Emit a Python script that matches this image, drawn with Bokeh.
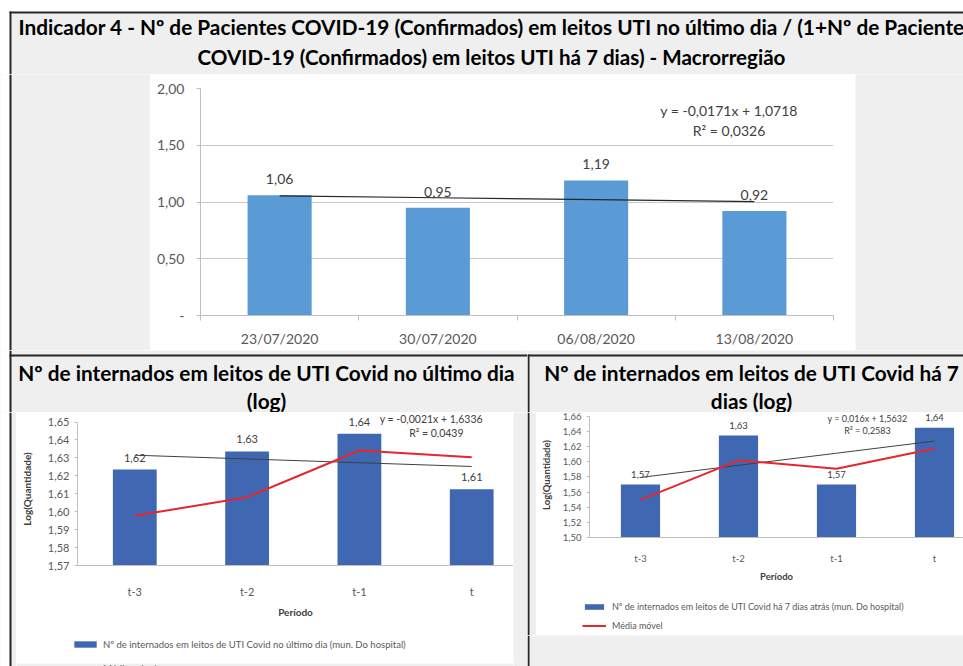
from bokeh.plotting import figure
from bokeh.models import Range1d, FixedTicker, Label, Legend, LegendItem
from bokeh.layouts import column, row
from bokeh.embed import file_html
from bokeh.resources import INLINE
from bokeh.core.properties import value

FONT = "Lato"
BG = "#efefef"
BORDER = "#262626"

# ---------------- data ----------------
top_title = ["Indicador 4 - Nº de Pacientes COVID-19 (Confirmados) em leitos UTI no último dia / (1+Nº de Pacientes",
             "COVID-19 (Confirmados) em leitos UTI há 7 dias) - Macrorregião"]
top_dates = ["23/07/2020", "30/07/2020", "06/08/2020", "13/08/2020"]
top_values = [1.06, 0.95, 1.19, 0.92]
top_trend = [1.0547, 1.0376, 1.0205, 1.0034]
top_eq = ["y = -0,0171x + 1,0718", "R² = 0,0326"]
top_yticks = [0, 0.5, 1.0, 1.5, 2.0]

periods = ["t-3", "t-2", "t-1", "t"]

left_title = ["Nº de internados em leitos de UTI Covid no último dia", "(log)"]
last_day = [1.6235, 1.6336, 1.6434, 1.6125]
last_day_labels = ["1,62", "1,63", "1,64", "1,61"]
last_day_ma = [1.5977, 1.6081, 1.6341, 1.6304]
last_day_trend = [1.6315, 1.6294, 1.6273, 1.6252]
last_day_eq = ["y = -0,0021x + 1,6336", "R² = 0,0439"]
last_day_yticks = [1.57, 1.58, 1.59, 1.60, 1.61, 1.62, 1.63, 1.64, 1.65]
last_day_legend = "Nº de internados em leitos de UTI Covid no último dia (mun. Do hospital)"

right_title = ["Nº de internados em leitos de UTI Covid há 7", "dias (log)"]
week_ago = [1.5698, 1.6345, 1.5698, 1.6448]
week_ago_labels = ["1,57", "1,63", "1,57", "1,64"]
week_ago_ma = [1.5496, 1.6018, 1.5907, 1.6173]
week_ago_trend = [1.5792, 1.5952, 1.6112, 1.6272]
week_ago_eq = ["y = 0,016x + 1,5632", "R² = 0,2583"]
week_ago_yticks = [1.50, 1.52, 1.54, 1.56, 1.58, 1.60, 1.62, 1.64, 1.66]
week_ago_legend = "Nº de internados em leitos de UTI Covid há 7 dias atrás (mun. Do hospital)"

ma_label = "Média móvel"
x_label = "Período"
y_label = "Log(Quantidade)"

BAR_TOP = "#5b9bd5"
BAR_LOG = "#4068b2"
MA_RED = "#e8242c"


def comma(v, nd=2):
    return f"{v:.{nd}f}".replace(".", ",")


# ---------------- helpers ----------------
def panel(w, h, bg=BG):
    f = figure(width=w, height=h, x_range=Range1d(0, w), y_range=Range1d(h, 0),
               x_axis_type=None, y_axis_type=None, toolbar_location=None,
               output_backend="svg", min_border=0, title=None)
    f.frame_align = False
    f.outline_line_color = None
    f.background_fill_color = bg
    f.border_fill_color = bg
    return f


def rect(f, x0, x1, y0, y1, color=BORDER):
    f.quad(left=x0, right=x1, top=y0, bottom=y1, fill_color=color, line_color=None)


def left_edge(f, h, top=0):
    """white margin + black frame line at the far left of the page"""
    rect(f, 0, 9, 0, h, "white")
    rect(f, 9, 11, top, h, BORDER)


def chart(w, h, xr, yr, borders):
    p = figure(width=w, height=h, x_range=Range1d(*xr), y_range=Range1d(*yr),
               toolbar_location=None, output_backend="svg", title=None)
    p.frame_align = False
    (p.min_border_left, p.min_border_right, p.min_border_top, p.min_border_bottom) = borders
    p.background_fill_color = "white"
    p.border_fill_color = "white"
    p.outline_line_color = None
    return p


def style_log_axes(p, tick_size, label_size, yticks):
    for ax in (p.xaxis[0], p.yaxis[0]):
        ax.axis_line_color = "#bfbfbf"
        ax.major_label_text_font = FONT
        ax.major_label_text_color = "#595959"
        ax.major_label_text_font_size = tick_size
        ax.minor_tick_line_color = None
        ax.axis_label_text_font = FONT
        ax.axis_label_text_font_style = "bold"
        ax.axis_label_text_font_size = label_size
        ax.axis_label_text_color = "#404040"
    p.yaxis.ticker = FixedTicker(ticks=yticks)
    p.yaxis.major_label_overrides = {t: comma(t) for t in yticks}
    p.yaxis.bounds = (yticks[0], yticks[-1])
    p.yaxis.major_tick_line_color = "#bfbfbf"
    p.yaxis.major_tick_out = 3
    p.yaxis.major_tick_in = 0
    p.xaxis.ticker = FixedTicker(ticks=list(range(len(periods))))
    p.xaxis.major_label_overrides = {i: s for i, s in enumerate(periods)}
    p.xaxis.major_tick_line_color = None
    p.xaxis.axis_label = x_label
    p.yaxis.axis_label = y_label
    p.grid.visible = False


def legend_fig(w, h, bar_label, bars, ma, loc, size, row_h, spacing, glyph_w, glyph_h, standoff):
    """legend strip under a chart; its two swatches use hidden copies of the chart's series"""
    f = panel(w, h, "white")
    xs_ = list(range(len(bars)))
    r1 = f.vbar(x=xs_, top=bars, width=0.4, fill_color=BAR_LOG, line_color=None, visible=False)
    r2 = f.line(x=xs_, y=ma, line_color=MA_RED, line_width=2, visible=False)
    f.add_layout(Legend(items=[LegendItem(label=bar_label, renderers=[r1]),
                               LegendItem(label=ma_label, renderers=[r2])],
                        location=loc, orientation="vertical", padding=0, margin=0,
                        spacing=spacing, glyph_width=glyph_w, glyph_height=glyph_h,
                        label_height=row_h, label_standoff=standoff,
                        background_fill_alpha=0, border_line_color=None,
                        inactive_fill_alpha=0,
                        label_text_font=FONT, label_text_font_size=size,
                        label_text_color="#595959"))
    return f


# ---------------- top header (y 0-74) ----------------
W = 963
head = panel(W, 74, "white")
rect(head, 11, W, 13, 74, BG)
rect(head, 9, W, 11, 13)
rect(head, 9, 11, 11, 74)
head.text(x=[18], y=[26], text=[top_title[0]], text_font=value(FONT), text_font_style="bold",
          text_font_size="20.8px", text_align="left", text_baseline="middle", text_color="black")
head.text(x=[491], y=[56], text=[top_title[1]], text_font=value(FONT), text_font_style="bold",
          text_font_size="20.6px", text_align="center", text_baseline="middle", text_color="black")

# ---------------- top chart row (y 74-350) ----------------
fill_l = panel(150, 276)
left_edge(fill_l, 276)
fill_r = panel(108, 276)

pt = chart(705, 276, (-0.5, 3.5), (0, 2), (50, 22, 14, 35))
xs = list(range(len(top_dates)))
pt.vbar(x=xs, top=top_values, width=0.405, fill_color=BAR_TOP, line_color=None)
pt.line(x=xs, y=top_trend, line_color="#262626", line_width=1.2)
for ax in (pt.xaxis[0], pt.yaxis[0]):
    ax.axis_line_color = "#bfbfbf"
    ax.major_label_text_font = FONT
    ax.major_label_text_color = "#595959"
pt.xaxis.ticker = FixedTicker(ticks=xs, minor_ticks=[-0.5, 0.5, 1.5, 2.5, 3.5])
pt.xaxis.major_label_overrides = {i: d for i, d in enumerate(top_dates)}
pt.xaxis.major_tick_line_color = None
pt.xaxis.minor_tick_line_color = "#bfbfbf"
pt.xaxis.minor_tick_out = 5
pt.xaxis.minor_tick_in = 0
pt.xaxis.major_label_text_font_size = "14px"
pt.xaxis.major_label_standoff = 8
pt.yaxis.ticker = FixedTicker(ticks=top_yticks)
pt.yaxis.major_label_overrides = {t: ("-" if t == 0 else comma(t)) for t in top_yticks}
pt.yaxis.major_tick_line_color = "#bfbfbf"
pt.yaxis.major_tick_out = 4
pt.yaxis.major_tick_in = 0
pt.yaxis.minor_tick_line_color = None
pt.yaxis.major_label_text_font_size = "14px"
pt.yaxis.major_label_standoff = 12
pt.xgrid.visible = False
pt.ygrid.grid_line_color = "#c8c8c8"
for x, v in zip(xs, top_values):
    pt.add_layout(Label(x=x, y=v, y_offset=16, text=comma(v),
                        text_font=FONT, text_font_size="14px", text_color="#404040",
                        text_align="center", text_baseline="middle"))
pt.add_layout(Label(x=2.84, y=1.806, text=top_eq[0], text_font=FONT, text_font_size="14px",
                    text_color="#404040", text_align="center", text_baseline="middle"))
pt.add_layout(Label(x=2.84, y=1.63, text=top_eq[1], text_font=FONT, text_font_size="14px",
                    text_color="#404040", text_align="center", text_baseline="middle"))

# ---------------- bottom left (x 0-527, y 350-666) ----------------
lhead = panel(527, 62)
left_edge(lhead, 62)
rect(lhead, 9, 527, 4, 6)
for i, t in enumerate(left_title):
    lhead.text(x=[266], y=[22 + 28 * i], text=[t], text_font=value(FONT), text_font_style="bold",
               text_font_size="20.8px", text_align="center", text_baseline="middle", text_color="black")

lf1 = panel(16, 254)
left_edge(lf1, 254)
lf2 = panel(14, 254)

px = list(range(len(periods)))
pl = chart(497, 208, (-0.51, 3.372), (1.57, 1.6553), (61, 0, 0, 47))
pl.vbar(x=px, top=last_day, bottom=1.57, width=0.39, fill_color=BAR_LOG, line_color=None)
pl.line(x=px, y=last_day_trend, line_color="#404040", line_width=1)
pl.line(x=px, y=last_day_ma, line_color=MA_RED, line_width=2)
style_log_axes(pl, "11px", "10px", last_day_yticks)
pl.xaxis.major_label_standoff = 13
pl.xaxis.axis_label_standoff = 5
pl.yaxis.axis_label_standoff = 12
for x, v, s in zip(px, last_day, last_day_labels):
    pl.add_layout(Label(x=x, y=v, y_offset=12, text=s, text_font=FONT, text_font_size="11px",
                        text_color="#404040", text_align="center", text_baseline="middle"))
pl.add_layout(Label(x=2.64, y=1.6516, text=last_day_eq[0], text_font=FONT, text_font_size="10.5px",
                    text_color="#404040", text_align="center", text_baseline="middle"))
pl.add_layout(Label(x=2.685, y=1.6436, text=last_day_eq[1], text_font=FONT, text_font_size="10.5px",
                    text_color="#404040", text_align="center", text_baseline="middle"))

legl = legend_fig(497, 46, last_day_legend, last_day, last_day_ma, (55, -8), "9.5px", 12, 12, 28, 8, 4)
rect(legl, 0, 497, 43, 46, BG)

left_block = column(lhead, row(lf1, column(pl, legl), lf2))

# ---------------- bottom right (x 527-963, y 350-666) ----------------
rhead = panel(436, 62)
rect(rhead, 0, 436, 4, 6)
rect(rhead, 0, 2, 4, 62)
for i, t in enumerate(right_title):
    rhead.text(x=[224], y=[22 + 28 * i], text=[t], text_font=value(FONT), text_font_style="bold",
               text_font_size="20.8px", text_align="center", text_baseline="middle", text_color="black")

rf1 = panel(9, 223)
rect(rf1, 0, 2, 0, 223)

pr = chart(427, 172, (-0.52, 3.296), (1.50, 1.6649), (53, 0, 0, 38))
pr.vbar(x=px, top=week_ago, bottom=1.50, width=0.4, fill_color=BAR_LOG, line_color=None)
pr.line(x=px, y=week_ago_trend, line_color="#404040", line_width=1)
pr.line(x=px, y=week_ago_ma, line_color=MA_RED, line_width=2)
style_log_axes(pr, "9.5px", "9.5px", week_ago_yticks)
pr.xaxis.major_label_standoff = 9
pr.xaxis.axis_label_standoff = 4
pr.yaxis.axis_label_standoff = 8
for x, v, s in zip(px, week_ago, week_ago_labels):
    pr.add_layout(Label(x=x, y=v, y_offset=10, text=s, text_font=FONT, text_font_size="9.5px",
                        text_color="#404040", text_align="center", text_baseline="middle"))
pr.add_layout(Label(x=2.316, y=1.6575, text=week_ago_eq[0], text_font=FONT, text_font_size="9px",
                    text_color="#404040", text_align="center", text_baseline="middle"))
pr.add_layout(Label(x=2.316, y=1.6415, text=week_ago_eq[1], text_font=FONT, text_font_size="9px",
                    text_color="#404040", text_align="center", text_baseline="middle"))

legr = legend_fig(427, 51, week_ago_legend, week_ago, week_ago_ma, (46, 4.5), "9px", 11, 8, 24, 7, 6)

rbot = panel(436, 31)
rect(rbot, 0, 2, 0, 31)

right_block = column(rhead, row(rf1, column(pr, legr)), rbot)

layout = column(head, row(fill_l, pt, fill_r), row(left_block, right_block))

open("out.html", "w").write(file_html(layout, INLINE))
